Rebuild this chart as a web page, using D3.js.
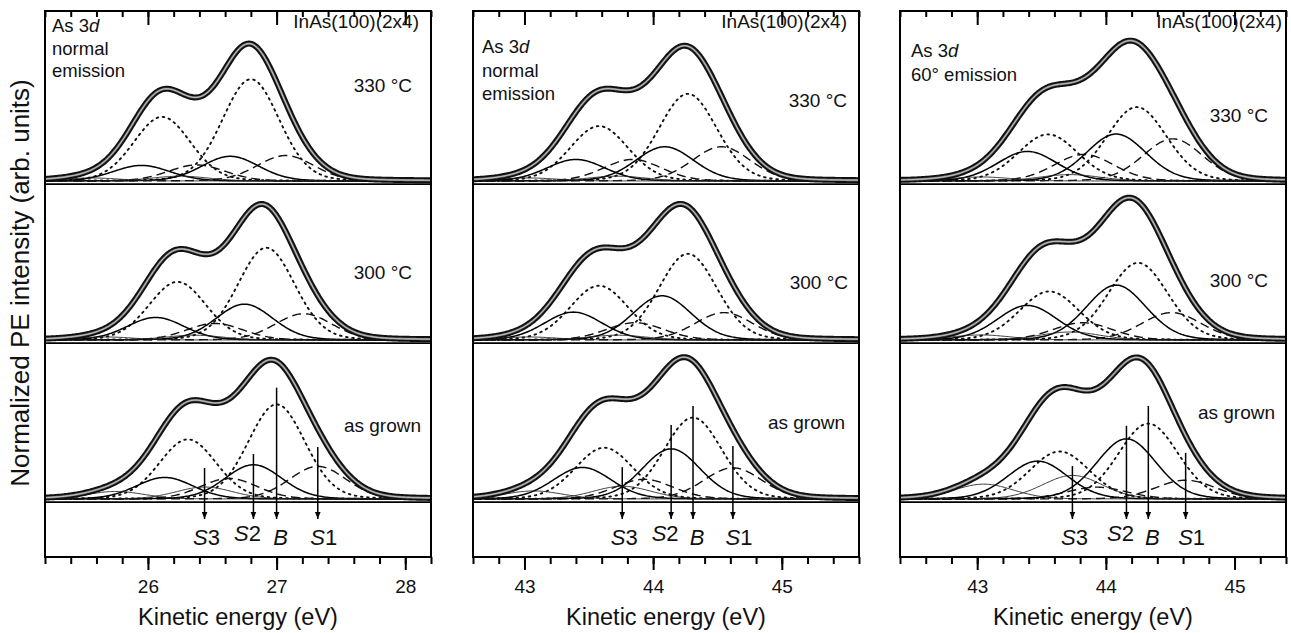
<!DOCTYPE html>
<html>
<head>
<meta charset="utf-8">
<script src="https://cdn.jsdelivr.net/npm/d3@7"></script>
<style>
body { margin: 0; background: #fff; }
svg text { font-family: "Liberation Sans", Arial, sans-serif; fill: #111; }
</style>
</head>
<body>
<div id="chart"></div>
<script>
const width = 1291;
const height = 633;

// kinetic energy range of each panel (eV)
const panelDomains = [[25.2, 28.2], [42.6, 45.6], [42.4, 45.4]];
const majorTicks = [[26, 27, 28], [43, 44, 45], [43, 44, 45]];

const spectrumLabels = ["330 \u00B0C", "300 \u00B0C", "as grown"];
const spectrumOffsets = [2, 1, 0];
const componentNames = ["B", "S1", "S2", "S3"];

// As 3d5/2 position of each component, spectra top -> bottom, order B, S1, S2, S3
const posPanel1 = [[26.80, 27.07, 26.64, 26.25], [26.92, 27.21, 26.75, 26.36], [27.00, 27.32, 26.82, 26.44]];
const posPanel2 = [[44.27, 44.53, 44.09, 43.72], [44.27, 44.55, 44.07, 43.72], [44.31, 44.62, 44.14, 43.76]];
const posPanel3 = [[44.24, 44.52, 44.08, 43.72], [44.25, 44.51, 44.08, 43.72], [44.33, 44.62, 44.16, 43.74]];

// 3d5/2 peak heights (spectra spaced by 1)
const ampPanel1 = [[0.64, 0.16, 0.155, 0.03], [0.58, 0.165, 0.225, 0.03], [0.595, 0.205, 0.215, 0.075]];
const ampPanel2 = [[0.548, 0.215, 0.215, 0.03], [0.542, 0.172, 0.278, 0.03], [0.512, 0.196, 0.315, 0.08]];
const ampPanel3 = [[0.465, 0.265, 0.295, 0.04], [0.485, 0.172, 0.345, 0.05], [0.474, 0.118, 0.378, 0.148]];

const fwhm = [0.52, 0.53, 0.545];
const soSplit = 0.69;
const branching = 0.63;
const lorentzMix = 0.1;

// arrow tops for the as grown spectrum, order B, S1, S2, S3
const arrowTops = [[0.70, 0.327, 0.283, 0.195], [0.585, 0.333, 0.465, 0.20], [0.585, 0.29, 0.46, 0.207]];
const arrowEnd = -0.126;

const positions = [posPanel1, posPanel2, posPanel3];
const amplitudes = [ampPanel1, ampPanel2, ampPanel3];

// layout
const panelLeft = [45, 473, 900];
const panelW = 386;
const panelTop = 11;
const panelBottom = 557;

const noteLines = [
    [["As 3", "d"], ["normal"], ["emission"]],
    [["As 3", "d"], ["normal"], ["emission"]],
    [["As 3", "d"], ["60\u00B0 emission"]]
];
const noteY = [[32, 55, 77], [53, 77, 100], [57, 81]];
const noteX = [52, 482, 911];
const labelRight = [[19, 19, 10], [12, 11, 14], [18, 18, 11]];
const labelY = [[92, 279, 432], [107, 289, 429], [122, 287, 419]];

const svg = d3.select("#chart").append("svg")
    .attr("width", width)
    .attr("height", height);

svg.append("defs").append("marker")
    .attr("id", "arrow")
    .attr("viewBox", "0 0 10 10")
    .attr("refX", 10)
    .attr("refY", 5)
    .attr("markerWidth", 7)
    .attr("markerHeight", 7)
    .attr("markerUnits", "userSpaceOnUse")
    .attr("orient", "auto")
    .append("path")
    .attr("d", "M0,1 L10,5 L0,9 Z")
    .attr("fill", "#000");

const y = d3.scaleLinear()
    .domain([-0.365, 3.069])
    .range([panelBottom, panelTop]);

// pseudo-Voigt line shape of one fitted peak
function peakShape(e, c, w) {
    const t = (e - c) / w;
    return lorentzMix / (1 + 4 * t * t) + (1 - lorentzMix) * Math.exp(-4 * Math.LN2 * t * t);
}

const compStyle = {
    B: { dash: "1.6 4.6", width: 1.9, color: "#111" },
    S1: { dash: "9 5", width: 1.4, color: "#111" },
    S2: { dash: null, width: 1.5, color: "#000" },
    S3: { dash: null, width: 0.9, color: "#222" }
};

panelDomains.forEach((domain, p) => {
    const left = panelLeft[p];
    const right = left + panelW;
    const x = d3.scaleLinear().domain(domain).range([left, right]);
    const g = svg.append("g");
    const grid = d3.range(domain[0], domain[1] + 1e-9, 0.01);
    const minor = d3.range(Math.round(domain[0] * 5), Math.round(domain[1] * 5) + 1).map(d => d / 5);

    spectrumOffsets.forEach((off, s) => {
        const pos = positions[p][s];
        const amp = amplitudes[p][s];
        const w = fwhm[p];

        // zero line of the spectrum
        g.append("line")
            .attr("x1", left).attr("x2", right)
            .attr("y1", y(off - 0.02)).attr("y2", y(off - 0.02))
            .attr("stroke", "#000").attr("stroke-width", 1.8);

        const line = d3.line()
            .x(d => x(d.e))
            .y(d => y(off + d.v));

        // each component: 3d5/2 and 3d3/2 peaks drawn as separate curves
        componentNames.forEach((name, c) => {
            const st = compStyle[name];
            const peaks = [
                { c: pos[c], a: amp[c] },
                { c: pos[c] - soSplit, a: amp[c] * branching }
            ];
            peaks.forEach(pk => {
                const pts = grid.map(e => ({ e: e, v: pk.a * peakShape(e, pk.c, w) }));
                g.append("path")
                    .datum(pts)
                    .attr("d", line)
                    .attr("fill", "none")
                    .attr("stroke", st.color)
                    .attr("stroke-width", st.width)
                    .attr("stroke-linecap", name === "B" ? "round" : "butt")
                    .attr("stroke-dasharray", st.dash);
            });
        });

        // measured spectrum (thick band) with the fit line inside
        const env = grid.map(e => ({
            e: e,
            v: d3.sum(componentNames, (n, c) =>
                amp[c] * (peakShape(e, pos[c], w) + branching * peakShape(e, pos[c] - soSplit, w)))
        }));
        g.append("path").datum(env).attr("d", line)
            .attr("fill", "none").attr("stroke", "#101010").attr("stroke-width", 6)
            .attr("stroke-linejoin", "round");
        g.append("path").datum(env).attr("d", line)
            .attr("fill", "none").attr("stroke", "#777").attr("stroke-width", 2.2);
        g.append("path").datum(env).attr("d", line)
            .attr("fill", "none").attr("stroke", "#e6e6e6").attr("stroke-width", 0.7);

        g.append("text")
            .attr("x", right - labelRight[p][s])
            .attr("y", labelY[p][s])
            .attr("text-anchor", "end")
            .attr("font-size", 19)
            .text(spectrumLabels[s]);
    });

    // arrows and component labels on the as grown spectrum
    const bottomPos = positions[p][2];
    componentNames.forEach((name, c) => {
        g.append("line")
            .attr("x1", x(bottomPos[c])).attr("x2", x(bottomPos[c]))
            .attr("y1", y(arrowTops[p][c])).attr("y2", y(arrowEnd))
            .attr("stroke", "#000").attr("stroke-width", 1.5)
            .attr("marker-end", "url(#arrow)");
        const dx = { B: 4, S1: 6, S2: -6, S3: 2 }[name];
        const t = g.append("text")
            .attr("x", x(bottomPos[c]) + dx)
            .attr("y", name === "S2" ? 541 : 545)
            .attr("text-anchor", "middle")
            .attr("font-size", 22);
        t.append("tspan").attr("font-style", "italic").text(name[0]);
        if (name.length > 1) t.append("tspan").text(name.slice(1));
    });

    // frame
    g.append("rect")
        .attr("x", left).attr("y", panelTop)
        .attr("width", panelW).attr("height", panelBottom - panelTop)
        .attr("fill", "none").attr("stroke", "#000").attr("stroke-width", 2);

    // ticks
    const topMinor = g.append("g").attr("transform", `translate(0,${panelTop})`)
        .call(d3.axisTop(x).tickValues(minor).tickSize(-6).tickFormat(""));
    const topMajor = g.append("g").attr("transform", `translate(0,${panelTop})`)
        .call(d3.axisTop(x).tickValues(majorTicks[p]).tickSize(-14).tickFormat(""));
    const botMinor = g.append("g").attr("transform", `translate(0,${panelBottom})`)
        .call(d3.axisBottom(x).tickValues(minor).tickSize(7).tickFormat(""));
    const botMajor = g.append("g").attr("transform", `translate(0,${panelBottom})`)
        .call(d3.axisBottom(x).tickValues(majorTicks[p]).tickSize(13).tickPadding(10).tickFormat(d3.format("d")));
    [topMinor, topMajor, botMinor, botMajor].forEach(a => {
        a.select(".domain").remove();
        a.selectAll("line").attr("stroke", "#000").attr("stroke-width", 2);
    });
    botMajor.selectAll("text")
        .attr("font-size", 19)
        .attr("font-family", "Liberation Sans, Arial, sans-serif")
        .attr("fill", "#111");

    // notes
    noteLines[p].forEach((parts, i) => {
        const t = g.append("text")
            .attr("x", noteX[p])
            .attr("y", noteY[p][i])
            .attr("font-size", 18.5);
        t.append("tspan").text(parts[0]);
        if (parts[1]) t.append("tspan").attr("font-style", "italic").text(parts[1]);
    });
    g.append("text")
        .attr("x", right - (p === 2 ? 4 : 12))
        .attr("y", 28)
        .attr("text-anchor", "end")
        .attr("font-size", 19)
        .text("InAs(100)(2x4)");

    g.append("text")
        .attr("x", (left + right) / 2)
        .attr("y", 625)
        .attr("text-anchor", "middle")
        .attr("font-size", 23.5)
        .text("Kinetic energy (eV)");
});

svg.append("text")
    .attr("transform", "translate(29,283) rotate(-90)")
    .attr("text-anchor", "middle")
    .attr("font-size", 26)
    .text("Normalized PE intensity (arb. units)");
</script>
</body>
</html>
